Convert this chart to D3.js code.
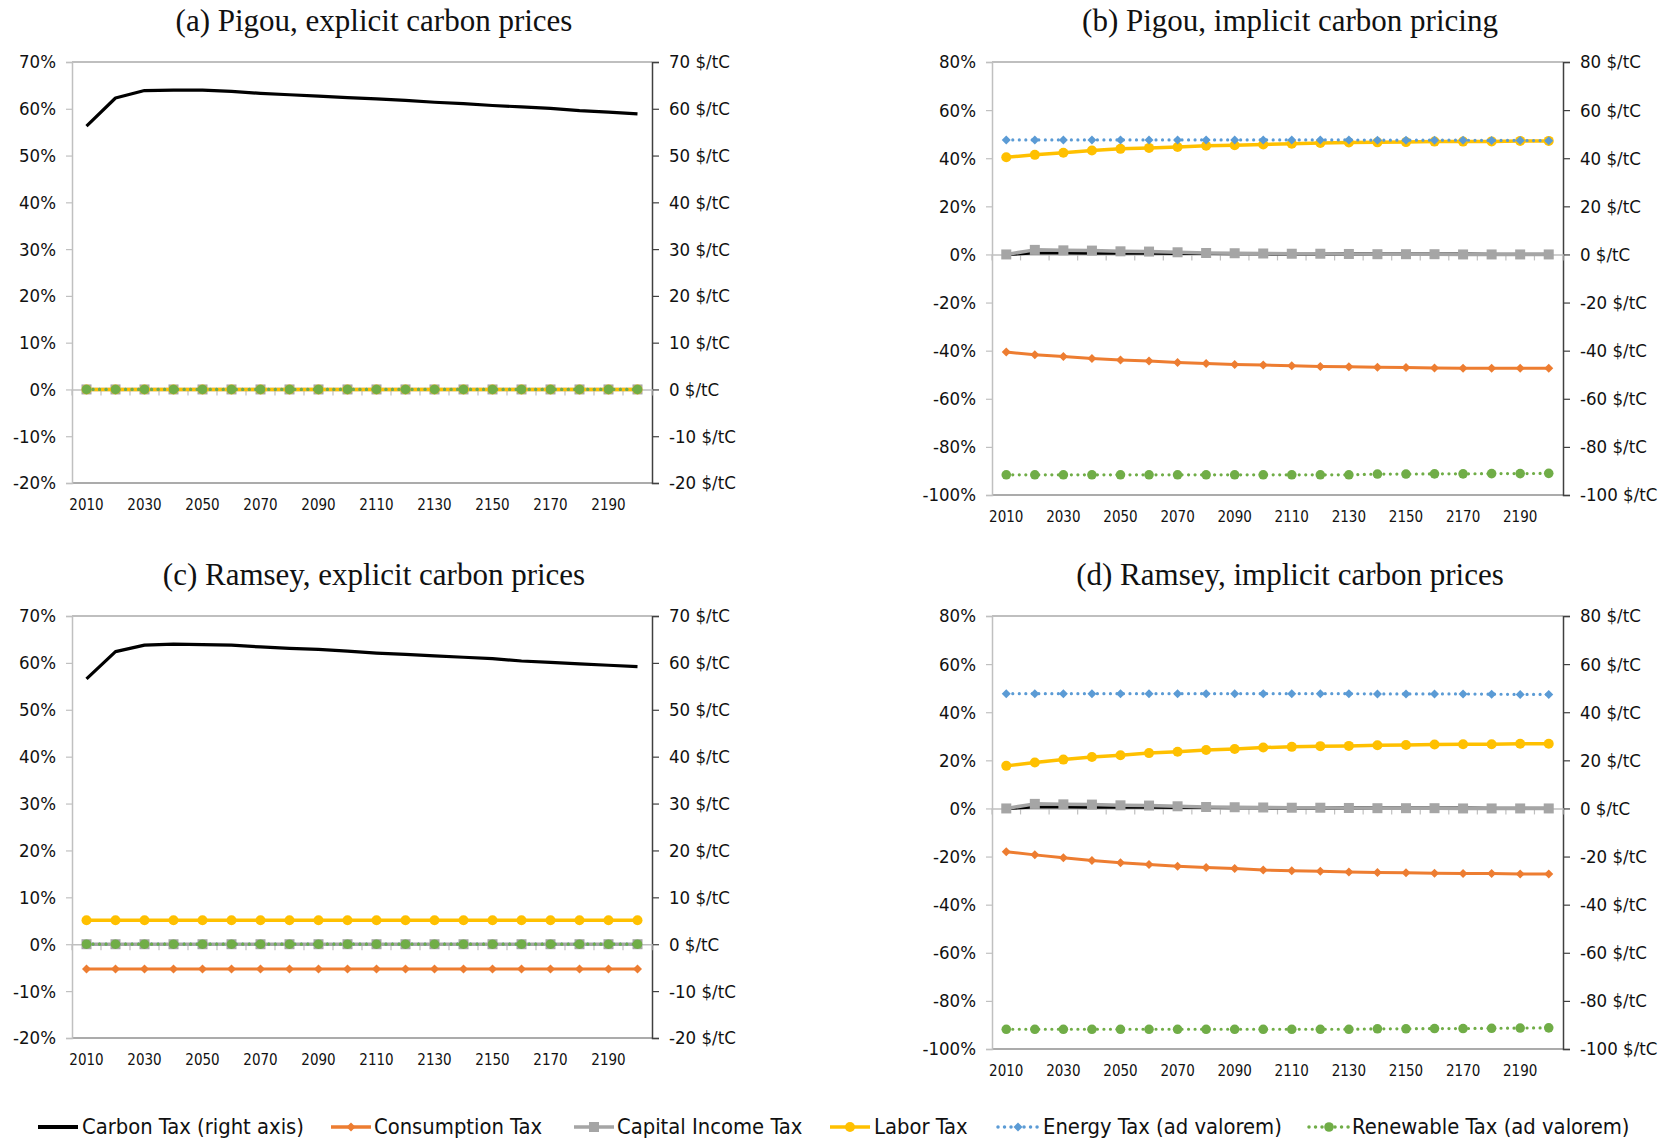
<!DOCTYPE html>
<html><head><meta charset="utf-8">
<script src="https://cdn.jsdelivr.net/npm/d3@7/dist/d3.min.js"></script>
<style>body{margin:0;background:#fff}svg{display:block}</style>
</head><body>
<svg id="chart" width="1675" height="1142"></svg>
<script>
// ---------- DATA ----------
const years = [2010,2020,2030,2040,2050,2060,2070,2080,2090,2100,2110,2120,2130,2140,2150,2160,2170,2180,2190,2200];
const yearLabels = ["2010","2030","2050","2070","2090","2110","2130","2150","2170","2190"];

const seriesNames = ["Carbon Tax (right axis)","Consumption Tax","Capital Income Tax","Labor Tax","Energy Tax (ad valorem)","Renewable Tax (ad valorem)"];

// (a) Pigou, explicit
const carbonA = [56.3,62.3,63.9,64.0,64.0,63.7,63.3,63.0,62.7,62.4,62.1,61.8,61.4,61.1,60.7,60.4,60.1,59.6,59.3,58.9];
const consA   = [0,0,0,0,0,0,0,0,0,0,0,0,0,0,0,0,0,0,0,0];
const capA    = [0,0,0,0,0,0,0,0,0,0,0,0,0,0,0,0,0,0,0,0];
const laborA  = [0,0,0,0,0,0,0,0,0,0,0,0,0,0,0,0,0,0,0,0];
const energyA = [0,0,0,0,0,0,0,0,0,0,0,0,0,0,0,0,0,0,0,0];
const renewA  = [0,0,0,0,0,0,0,0,0,0,0,0,0,0,0,0,0,0,0,0];

// (b) Pigou, implicit
const carbonB = [0,0.6,0.6,0.5,0.5,0.5,0.4,0.4,0.3,0.3,0.2,0.2,0.2,0.1,0.1,0.1,0.1,0,0,0];
const consB   = [-40.6,-41.7,-42.4,-43.3,-43.9,-44.3,-44.9,-45.3,-45.7,-46.0,-46.3,-46.6,-46.7,-46.9,-47.0,-47.2,-47.3,-47.3,-47.3,-47.3];
const capB    = [0,1.9,1.7,1.6,1.3,1.2,0.9,0.6,0.5,0.4,0.3,0.3,0.2,0.1,0.1,0.1,0,0,0,0];
const laborB  = [40.4,41.4,42.3,43.2,43.9,44.3,44.7,45.2,45.4,45.7,46.0,46.3,46.5,46.6,46.7,46.9,46.9,47.0,47.2,47.2];
const energyB = [47.6,47.6,47.6,47.6,47.6,47.6,47.6,47.6,47.6,47.6,47.6,47.6,47.6,47.5,47.5,47.5,47.5,47.4,47.4,47.3];
const renewB  = [-91.6,-91.6,-91.6,-91.6,-91.6,-91.6,-91.6,-91.6,-91.6,-91.6,-91.6,-91.6,-91.6,-91.3,-91.3,-91.2,-91.2,-91.1,-91.1,-91.0];

// (c) Ramsey, explicit
const carbonC = [56.6,62.4,63.8,64.0,63.9,63.8,63.4,63.1,62.9,62.5,62.1,61.8,61.5,61.2,60.9,60.4,60.1,59.8,59.5,59.2];
const consC   = [-5.3,-5.3,-5.3,-5.3,-5.3,-5.3,-5.3,-5.3,-5.3,-5.3,-5.3,-5.3,-5.3,-5.3,-5.3,-5.3,-5.3,-5.3,-5.3,-5.3];
const capC    = [0,0,0,0,0,0,0,0,0,0,0,0,0,0,0,0,0,0,0,0];
const laborC  = [5.1,5.1,5.1,5.1,5.1,5.1,5.1,5.1,5.1,5.1,5.1,5.1,5.1,5.1,5.1,5.1,5.1,5.1,5.1,5.1];
const energyC = [0,0,0,0,0,0,0,0,0,0,0,0,0,0,0,0,0,0,0,0];
const renewC  = [0,0,0,0,0,0,0,0,0,0,0,0,0,0,0,0,0,0,0,0];

// (d) Ramsey, implicit
const carbonD = [0,0.6,0.6,0.5,0.5,0.5,0.4,0.4,0.3,0.3,0.2,0.2,0.2,0.1,0.1,0.1,0.1,0,0,0];
const consD   = [-18.0,-19.3,-20.5,-21.6,-22.6,-23.3,-24.0,-24.6,-25.0,-25.6,-25.9,-26.1,-26.4,-26.6,-26.7,-26.9,-27.0,-27.0,-27.2,-27.2];
const capD    = [0,1.9,1.7,1.6,1.3,1.2,0.9,0.6,0.5,0.4,0.3,0.3,0.2,0.1,0.1,0.1,0,0,0,0];
const laborD  = [17.7,19.1,20.3,21.4,22.1,23.0,23.6,24.3,24.7,25.3,25.6,25.9,26.0,26.3,26.4,26.6,26.7,26.7,26.9,26.9];
const energyD = [47.7,47.7,47.7,47.7,47.7,47.7,47.7,47.7,47.7,47.7,47.7,47.7,47.7,47.6,47.6,47.6,47.6,47.5,47.4,47.4];
const renewD  = [-91.8,-91.8,-91.8,-91.8,-91.8,-91.8,-91.8,-91.8,-91.8,-91.8,-91.8,-91.8,-91.8,-91.6,-91.6,-91.5,-91.5,-91.4,-91.3,-91.2];

const ticksExplicit = [-20,-10,0,10,20,30,40,50,60,70];
const ticksImplicit = [-100,-80,-60,-40,-20,0,20,40,60,80];

const titles = ["(a) Pigou, explicit carbon prices","(b) Pigou, implicit carbon pricing","(c) Ramsey, explicit carbon prices","(d) Ramsey, implicit carbon prices"];

// ---------- LAYOUT / STYLE ----------
const axisFont = "'DejaVu Sans Condensed','Liberation Sans Narrow','Open Sans',sans-serif";
const titleFont = "'Liberation Serif','DejaVu Serif',serif";

const colors = {carbon:"#000000", cons:"#ED7D31", cap:"#A5A5A5", labor:"#FFC000", energy:"#5B9BD5", renew:"#70AD47"};

const panels = [
  {title:titles[0], x0:72,  x1:652,  y0:62,  y1:483,  ticks:ticksExplicit, tx:374,  ty:31,  data:[carbonA,consA,capA,laborA,energyA,renewA]},
  {title:titles[1], x0:992, x1:1563, y0:62,  y1:495,  ticks:ticksImplicit, tx:1290, ty:31,  data:[carbonB,consB,capB,laborB,energyB,renewB]},
  {title:titles[2], x0:72,  x1:652,  y0:616, y1:1038, ticks:ticksExplicit, tx:374,  ty:585, data:[carbonC,consC,capC,laborC,energyC,renewC]},
  {title:titles[3], x0:992, x1:1563, y0:616, y1:1049, ticks:ticksImplicit, tx:1290, ty:585, data:[carbonD,consD,capD,laborD,energyD,renewD]}
];

const svg = d3.select("#chart");

function diamondPath(s){ return `M0,${-s} L${s},0 L0,${s} L${-s},0 Z`; }

function drawMarker(g, type, color, x, y, size){
  if(type==="diamond"){
    g.append("path").attr("d", diamondPath(size)).attr("transform",`translate(${x},${y})`).attr("fill",color);
  } else if(type==="square"){
    g.append("rect").attr("x",x-size).attr("y",y-size).attr("width",size*2).attr("height",size*2).attr("fill",color);
  } else if(type==="circle"){
    g.append("circle").attr("cx",x).attr("cy",y).attr("r",size).attr("fill",color);
  }
}

const styles = [
  {key:"carbon", color:colors.carbon, width:3.2, dash:null, marker:null, msize:0, right:true},
  {key:"cons",   color:colors.cons,   width:3,   dash:null, marker:"diamond", msize:4.5},
  {key:"cap",    color:colors.cap,    width:3.5, dash:null, marker:"square",  msize:5},
  {key:"labor",  color:colors.labor,  width:3.5, dash:null, marker:"circle",  msize:5},
  {key:"energy", color:colors.energy, width:3.2, dash:"0.01,6.5", marker:"diamond", msize:4.5},
  {key:"renew",  color:colors.renew,  width:3.2, dash:"0.01,6.5", marker:"circle",  msize:4.8}
];

panels.forEach(p => {
  const g = svg.append("g");
  const x = d3.scaleBand().domain(years).range([p.x0, p.x1]).padding(0);
  const dom = [p.ticks[0], p.ticks[p.ticks.length-1]];
  const y = d3.scaleLinear().domain(dom).range([p.y1, p.y0]);
  const yR = d3.scaleLinear().domain(dom).range([p.y1, p.y0]);
  const cx = d => x(d) + x.bandwidth()/2;

  // title
  g.append("text").attr("x",p.tx).attr("y",p.ty).attr("text-anchor","middle")
    .attr("font-family",titleFont).attr("font-size",31).attr("fill","#111").text(p.title);

  // plot frame
  g.append("line").attr("x1",p.x0).attr("x2",p.x1).attr("y1",p.y0).attr("y2",p.y0).attr("stroke","#808080").attr("stroke-width",1.2);
  g.append("line").attr("x1",p.x0).attr("x2",p.x1).attr("y1",p.y1).attr("y2",p.y1).attr("stroke","#595959").attr("stroke-width",1.2);

  // left axis
  const left = d3.axisLeft(y).tickValues(p.ticks).tickSize(6).tickPadding(10).tickFormat(d => d + "%");
  const gl = g.append("g").attr("transform",`translate(${p.x0},0)`).call(left);
  gl.select(".domain").attr("stroke","#c0c0c0").attr("stroke-width",1.5);
  gl.selectAll(".tick line").attr("stroke","#c0c0c0").attr("stroke-width",1.2);
  gl.selectAll(".tick text").attr("font-family",axisFont).attr("font-size",18.5).attr("fill","#111");

  // right axis
  const right = d3.axisRight(yR).tickValues(p.ticks).tickSize(7).tickPadding(10).tickFormat(d => d + " $/tC");
  const gr = g.append("g").attr("transform",`translate(${p.x1},0)`).call(right);
  gr.select(".domain").attr("stroke","#404040").attr("stroke-width",1.5);
  gr.selectAll(".tick line").attr("stroke","#404040").attr("stroke-width",1.2);
  gr.selectAll(".tick text").attr("font-family",axisFont).attr("font-size",18.5).attr("fill","#111");

  // category axis at zero
  const bottom = d3.axisBottom(x).tickSize(0).tickFormat("");
  const gz = g.append("g").attr("transform",`translate(0,${y(0)})`).call(bottom);
  gz.select(".domain").attr("stroke","#bfbfbf").attr("stroke-width",1.5);
  const bounds = years.map(d => x(d)).concat([p.x1]);
  gz.selectAll(".cat-tick").data(bounds).enter().append("line").attr("class","cat-tick")
    .attr("x1",d=>d).attr("x2",d=>d).attr("y1",0).attr("y2",6).attr("stroke","#bfbfbf").attr("stroke-width",1.2);

  // year labels below plot
  g.selectAll(".yl").data(yearLabels).enter().append("text").attr("class","yl")
    .attr("x", d => cx(+d)).attr("y", p.y1 + 27).attr("text-anchor","middle")
    .attr("font-family",axisFont).attr("font-size",15).attr("fill","#111").text(d => d);

  // series
  const order = [0,1,2,3,4,5];
  order.forEach(i => {
    const s = styles[i];
    const vals = p.data[i];
    const sc = s.right ? yR : y;
    const line = d3.line().x((d,j) => cx(years[j])).y(d => sc(d));
    const path = g.append("path").datum(vals).attr("d", line).attr("fill","none")
      .attr("stroke", s.color).attr("stroke-width", s.width).attr("stroke-linejoin","round");
    if(s.dash){ path.attr("stroke-dasharray", s.dash).attr("stroke-linecap","round"); }
    if(s.marker){
      vals.forEach((v,j) => drawMarker(g, s.marker, s.color, cx(years[j]), sc(v), s.msize));
    }
  });
});

// ---------- LEGEND ----------
const legendPos = [
  {lx:38, tx:82},
  {lx:331, tx:374},
  {lx:574, tx:617},
  {lx:830, tx:874},
  {lx:998, tx:1043},
  {lx:1309, tx:1352}
];
const ly = 1127;
const lg = svg.append("g");
styles.forEach((s,i) => {
  const pos = legendPos[i];
  const l = lg.append("line").attr("x1",pos.lx).attr("x2",pos.lx+40).attr("y1",ly).attr("y2",ly)
    .attr("stroke",s.color).attr("stroke-width", i===0 ? 4 : 3.5);
  if(s.dash){ l.attr("stroke-dasharray","0.01,6.5").attr("stroke-linecap","round"); }
  if(s.marker){ drawMarker(lg, s.marker, s.color, pos.lx+20, ly, s.msize); }
  lg.append("text").attr("x",pos.tx).attr("y",ly+7).attr("font-family",axisFont).attr("font-size",21.8)
    .attr("fill","#111").text(seriesNames[i]);
});
</script>
</body></html>
